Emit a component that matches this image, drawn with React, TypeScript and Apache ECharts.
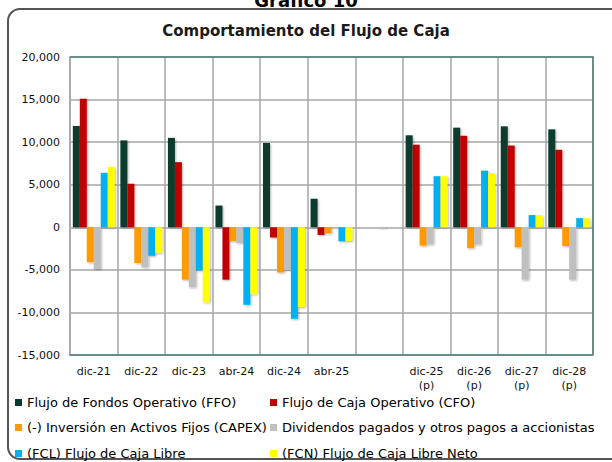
import React, { useEffect, useRef } from "react";
import * as echarts from "echarts";

const categories = ["dic-21", "dic-22", "dic-23", "abr-24", "dic-24", "abr-25", "", "dic-25\n(p)", "dic-26\n(p)", "dic-27\n(p)", "dic-28\n(p)"];
const ffo = [11900, 10200, 10500, 2550, 9900, 3350, null, 10800, 11700, 11850, 11500];
const cfo = [15100, 5100, 7650, -6150, -1200, -900, null, 9700, 10750, 9600, 9100];
const capex = [-4100, -4200, -6150, -1600, -5300, -700, null, -2150, -2450, -2350, -2200];
const dividendos = [-4900, -4700, -7050, -1850, -5000, 0, -150, -2000, -2000, -6150, -6150];
const fcl = [6400, -3350, -5050, -9100, -10750, -1650, null, 6000, 6650, 1430, 1080];
const fcn = [7100, -3000, -8800, -7850, -9350, -1600, null, 6000, 6350, 1400, 1050];

const seriesNames = [
  "Flujo de Fondos Operativo (FFO)",
  "Flujo de Caja Operativo (CFO)",
  "(-) Inversión en Activos Fijos (CAPEX)",
  "Dividendos pagados y otros pagos a accionistas",
  "(FCL) Flujo de Caja Libre",
  "(FCN) Flujo de Caja Libre Neto",
];
const seriesData = [ffo, cfo, capex, dividendos, fcl, fcn];
const colors = ["#073B2E", "#C00000", "#FF9A00", "#BFBFBF", "#00B0F0", "#FFFF00"];

const FONT = "DejaVu Sans";

export default function App() {
  const ref = useRef<HTMLDivElement>(null);
  useEffect(() => {
    if (!ref.current) return;
    const chart = echarts.init(ref.current, null, { renderer: "svg" });
    const legendPos = [
      [15, 396], [270, 396],
      [15, 421], [270, 421],
      [15, 447], [270, 447],
    ];
    chart.setOption({
      animation: false,
      textStyle: { fontFamily: FONT },
      color: colors,
      grid: { left: 70, right: 19, top: 57, bottom: 107, containLabel: false },
      title: {
        text: "Comportamiento del Flujo de Caja",
        left: "center",
        top: 18,
        textStyle: { fontFamily: FONT, fontSize: 15, fontWeight: "bold", color: "#1a1a1a" },
      },
      legend: seriesNames.map((n, i) => ({
        data: [n],
        left: legendPos[i][0],
        top: legendPos[i][1],
        padding: 0,
        itemWidth: 7,
        itemHeight: 7,
        icon: "rect",
        itemGap: 2,
        selectedMode: false,
        textStyle: { fontFamily: FONT, fontSize: 13, color: "#000" },
      })),
      xAxis: {
        type: "category",
        data: categories,
        axisLine: { onZero: false, lineStyle: { color: "#4E7D77", width: 1.5 } },
        axisTick: { show: false },
        axisLabel: { fontFamily: FONT, fontSize: 11, color: "#111", margin: 9, lineHeight: 14 },
        splitLine: { show: true, lineStyle: { color: "#A6A6A6", width: 1.5 } },
      },
      yAxis: {
        type: "value",
        min: -15000,
        max: 20000,
        interval: 5000,
        axisLine: { show: true, lineStyle: { color: "#A6A6A6", width: 1.5 } },
        axisTick: { show: false },
        axisLabel: {
          fontFamily: FONT,
          fontSize: 11,
          color: "#111",
          margin: 10,
          formatter: (v: number) => v.toLocaleString("en-US"),
        },
        splitLine: { lineStyle: { color: "#A6A6A6", width: 1.5 } },
      },
      graphic: [
        {
          type: "rect",
          shape: { x: 8, y: 9, width: 640, height: 450, r: 12 },
          style: { fill: "none", stroke: "#555", lineWidth: 2 },
          z: -10,
          silent: true,
        },
        {
          type: "text",
          x: 306,
          y: -9,
          style: { text: "Gráfico 10", fontFamily: FONT, fontSize: 18, fontWeight: "bold", fill: "#000", align: "center", verticalAlign: "top" },
        },
        {
          type: "polyline",
          shape: { points: [[70, 57], [593, 57], [593, 355]] },
          style: { stroke: "#4E7D77", lineWidth: 1.5, fill: "none" },
          z: 10,
        },
      ],
      series: seriesNames.map((n, i) => ({
        name: n,
        type: "bar",
        data: seriesData[i],
        barGap: "0%",
        barCategoryGap: "12%",
        itemStyle: {
          color: colors[i],
          shadowColor: "rgba(0,0,0,0.3)",
          shadowBlur: 2,
          shadowOffsetX: 1,
          shadowOffsetY: 1,
        },
      })),
    });
    return () => chart.dispose();
  }, []);
  return <div ref={ref} style={{ width: 612, height: 462, position: "absolute", left: 0, top: 0 }} />;
}
